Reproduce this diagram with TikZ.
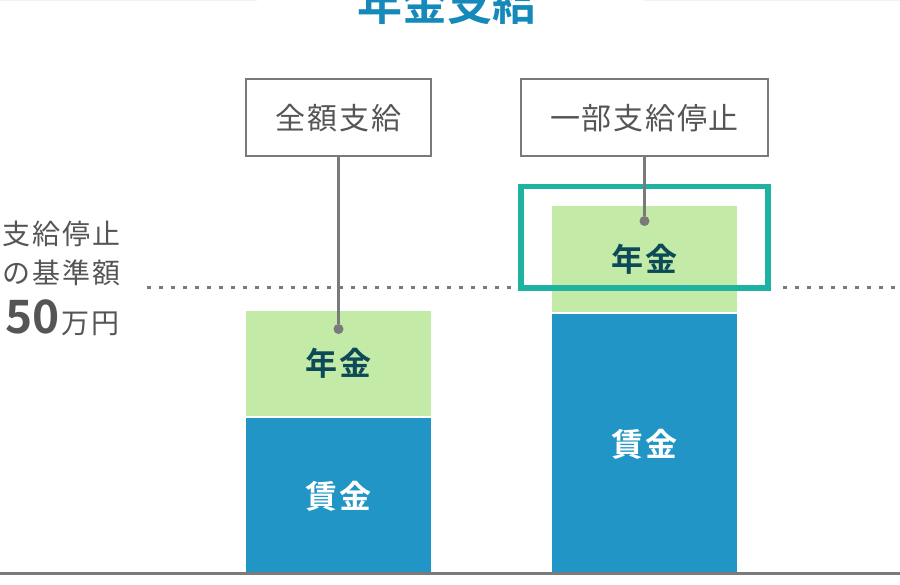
\documentclass[tikz,border=0pt]{standalone}
\usepackage{fontspec}
\setmainfont{Noto Sans CJK JP}[BoldFont={Noto Sans CJK JP Bold}]
\usepackage{xcolor}
\usepackage{tikz}

\definecolor{wage}{HTML}{2196C6}
\definecolor{pension}{HTML}{C4EAA8}
\definecolor{hilite}{HTML}{20B2A0}
\definecolor{darkteal}{HTML}{0C4A58}
\definecolor{titleblue}{HTML}{1589B9}
\definecolor{txtgray}{HTML}{555555}
\definecolor{linegray}{HTML}{7A7A7A}

\begin{document}
\begin{tikzpicture}[x=1pt, y=-1pt, every node/.style={inner sep=0pt},
  bar/.style={rectangle, minimum width=185pt},
  pen/.style={bar, fill=pension, text=darkteal, font=\fontsize{32}{36}\selectfont\bfseries\addfontfeatures{LetterSpace=4}},
  wag/.style={bar, fill=wage, text=white, font=\fontsize{32}{36}\selectfont\bfseries\addfontfeatures{LetterSpace=4}},
  tag/.style={rectangle, draw=linegray, line width=2pt, fill=white, minimum height=77pt, text=txtgray, font=\fontsize{30}{36}\selectfont\addfontfeatures{LetterSpace=6}},
  pin/.style={circle, fill=linegray, minimum size=10pt},
  lbl/.style={text=txtgray, anchor=base east}]
  \useasboundingbox (0,0) rectangle (900,585);
  \draw[black!5, line width=1pt] (0,0.5) -- (257,0.5) (643,0.5) -- (900,0.5);

  % title
  \node[anchor=base, text=titleblue, font=\fontsize{45}{50}\selectfont\bfseries] (title) at (447,21) {年金支給};

  % limit
  \node[lbl, font=\fontsize{28}{32}\selectfont\addfontfeatures{LetterSpace=8}] (lim1) at (121,245) {支給停止};
  \node[lbl, font=\fontsize{28}{32}\selectfont\addfontfeatures{LetterSpace=8}] (lim2) at (121,284) {の基準額};
  \node[lbl] (lim3) at (120,334) {{\fontsize{46}{48}\selectfont\bfseries 50}\hspace{2pt}{\fontsize{28}{30}\selectfont\addfontfeatures{LetterSpace=8}万円}};
  \coordinate (dl) at (147,288);
  \coordinate (dr) at (783,288);
  \coordinate (de) at (905,288);
  \draw[linegray, line width=3pt, dash pattern=on 4pt off 8pt] (dl) -- (519,288) (dr) -- (de);

  % bars
  \node[pen, minimum height=105pt] (pen1) at (338.5,363.5) {年金};
  \node[wag, minimum height=157pt] (wag1) at (338.5,496.5) {賃金};
  \node[pen, minimum height=106pt] (pen2) at (644.5,259) {年金};
  \node[wag, minimum height=261pt] (wag2) at (644.5,444.5) {賃金};
  \node[draw=hilite, line width=5.5pt, minimum width=247pt, minimum height=101.5pt] (hl) at (644.5,237.25) {};

  % tags
  \node[tag, minimum width=185pt] (full) at (338.5,118) {全額支給};
  \node[tag, minimum width=247pt] (part) at (644.5,118) {一部支給停止};
  \node[pin] (pin1) at (338.5,329) {};
  \node[pin] (pin2) at (644.5,221) {};
  \draw[linegray, line width=3pt] (full.south) -- (pin1);
  \draw[linegray, line width=3pt] (part.south) -- (pin2);

  \draw[linegray, line width=3pt] (0,573.5) -- (900,573.5);
\end{tikzpicture}
\end{document}
